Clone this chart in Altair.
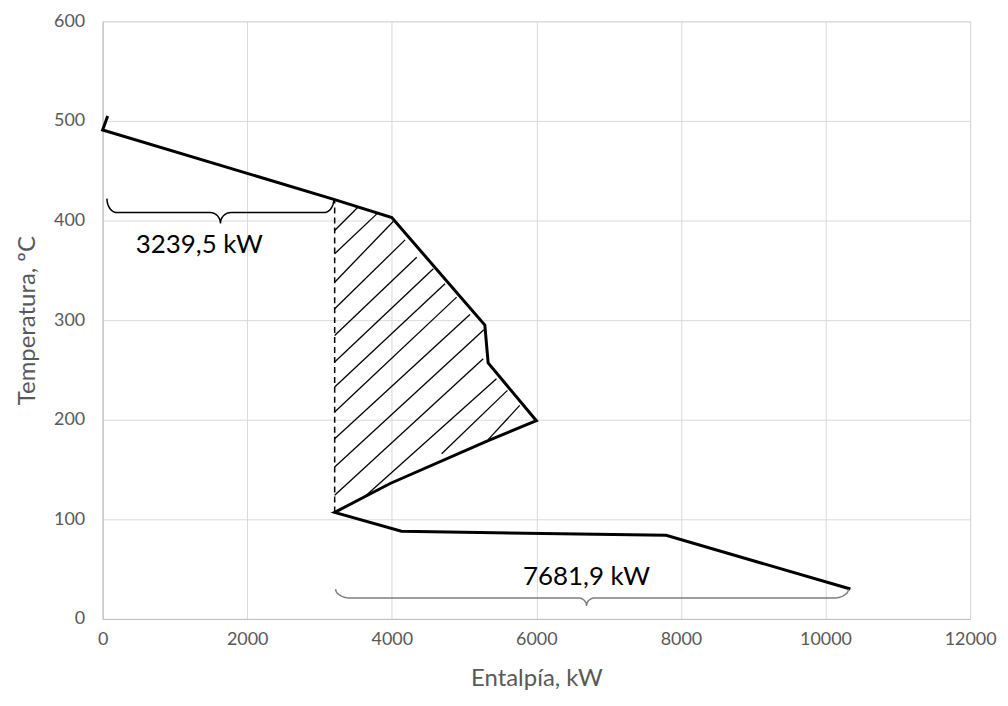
import altair as alt
import pandas as pd
import numpy as np

# Main composite curve (enthalpy kW, temperature ºC), in drawing order
curve_h = [70, 0, 3210, 4000, 5287, 5333, 6000, 5333, 3977, 3210, 4133, 7795, 10344]
curve_t = [505, 491, 421, 403, 295, 257, 199, 179, 136, 107, 88, 84, 30]

# Dashed vertical line
dash_h = [3210]
dash_t1 = [107]
dash_t2 = [421]

# Hatch segments
hatch_h1 = [3210, 3210, 3210, 3210, 3210, 3210, 3210, 3210, 3210, 3210, 3210, 3632, 4690, 5333]
hatch_t1 = [390, 366.6, 338.1, 311.4, 284.6, 257.9, 232.8, 207.7, 181, 152.5, 124.1, 123.1, 165.9, 180]
hatch_h2 = [3531, 3793, 4023, 4184, 4345, 4575, 4736, 4897, 5081, 5274, 5265, 5448, 5600, 5770]
hatch_t2 = [413.4, 406.7, 399.3, 380.6, 363.2, 351.5, 336.5, 323.1, 305.7, 290.3, 261.2, 241.2, 229.5, 214.4]

# Braces
brace_name = ["upper", "lower"]
brace_h1 = [60, 3223]
brace_h2 = [3200, 10317]
brace_hm = [1630, 6694]
brace_t_end = [422, 30]
brace_t_mid = [408, 21]
brace_t_tip = [397, 13]

# Labels
label_text = ["3239,5 kW", "7681,9 kW"]
label_h = [1336, 6694]
label_t = [375, 42]

x_ticks = [0, 2000, 4000, 6000, 8000, 10000, 12000]
y_ticks = [0, 100, 200, 300, 400, 500, 600]

FONT = "Lato"

curve_df = pd.DataFrame({"h": curve_h, "t": curve_t, "o": range(len(curve_h))})
dash_df = pd.DataFrame({"h": dash_h, "t": dash_t1, "t2": dash_t2})
hatch_df = pd.DataFrame({"h": hatch_h1, "t": hatch_t1, "h2": hatch_h2, "t2": hatch_t2})
label_df = pd.DataFrame({"h": label_h, "t": label_t, "txt": label_text})


def brace_points(name, x1, x2, xm, ye, yh, yt, r_end, r_mid, n=12):
    pts = []
    th = np.linspace(0, np.pi / 2, n)
    for a in th:
        pts.append((x1 + r_end * (1 - np.cos(a)), yh + (ye - yh) * (1 - np.sin(a))))
    for a in th:
        pts.append((xm - r_mid + r_mid * np.sin(a), yh - (yh - yt) * (1 - np.cos(a))))
    for a in th[::-1]:
        pts.append((xm + r_mid - r_mid * np.sin(a), yh - (yh - yt) * (1 - np.cos(a))))
    for a in th[::-1]:
        pts.append((x2 - r_end * (1 - np.cos(a)), yh + (ye - yh) * (1 - np.sin(a))))
    return [{"g": name, "h": p[0], "t": p[1], "o": i} for i, p in enumerate(pts)]


rows = []
curl = {"upper": (140, 140), "lower": (210, 110)}
for i, nm in enumerate(brace_name):
    re_, rm_ = curl[nm]
    rows += brace_points(nm, brace_h1[i], brace_h2[i], brace_hm[i],
                         brace_t_end[i], brace_t_mid[i], brace_t_tip[i], re_, rm_)
brace_df = pd.DataFrame(rows)

xs = alt.Scale(domain=[0, 12000], nice=False, zero=False)
ys = alt.Scale(domain=[0, 600], nice=False, zero=False)

x_axis = alt.Axis(values=x_ticks, format="d", title="Entalpía, kW", grid=True,
                  gridColor="#d9d9d9", gridWidth=1, domainColor="#bfbfbf", domainWidth=1,
                  ticks=False, tickSize=0, labelPadding=12, labelFlush=False,
                  labelFontSize=18, labelColor="#595959", labelFont=FONT,
                  titleFontSize=24, titleColor="#595959", titleFont=FONT,
                  titleFontWeight="normal", titlePadding=18)
y_axis = alt.Axis(values=y_ticks, format="d", title="Temperatura, ºC", grid=True,
                  gridColor="#d9d9d9", gridWidth=1, domainColor="#bfbfbf", domainWidth=1,
                  ticks=False, tickSize=0, labelPadding=18,
                  labelFontSize=18, labelColor="#595959", labelFont=FONT,
                  titleFontSize=24, titleColor="#595959", titleFont=FONT,
                  titleFontWeight="normal", titlePadding=14)

X = lambda f: alt.X(f, scale=xs, axis=x_axis)
Y = lambda f: alt.Y(f, scale=ys, axis=y_axis)

curve = alt.Chart(curve_df).mark_line(color="black", strokeWidth=3, strokeJoin="miter").encode(
    x=X("h:Q"), y=Y("t:Q"), order="o:Q",
)

hatch = alt.Chart(hatch_df).mark_rule(color="black", strokeWidth=1.3).encode(
    x=X("h:Q"), y=Y("t:Q"), x2="h2:Q", y2="t2:Q",
)

dash = alt.Chart(dash_df).mark_rule(color="black", strokeWidth=1.5, strokeDash=[6, 4]).encode(
    x=X("h:Q"), y=Y("t:Q"), y2="t2:Q",
)

braces = alt.Chart(brace_df).mark_line(strokeWidth=1.5).encode(
    x=X("h:Q"), y=Y("t:Q"),
    detail="g:N",
    order="o:Q",
    color=alt.Color("g:N", scale=alt.Scale(domain=["upper", "lower"], range=["#000000", "#7f7f7f"]), legend=None),
)

labels = alt.Chart(label_df).mark_text(font=FONT, fontSize=26, color="black").encode(
    x=X("h:Q"), y=Y("t:Q"), text="txt:N",
)

chart = alt.layer(curve, hatch, dash, braces, labels).properties(
    width=871, height=600,
    padding={"left": 95, "top": 12, "right": 30, "bottom": 78},
    autosize=alt.AutoSizeParams(type="none"),
).configure_view(strokeWidth=0).configure(background="white")

chart.save("out.html", embed_options={"renderer": "svg", "actions": False})
